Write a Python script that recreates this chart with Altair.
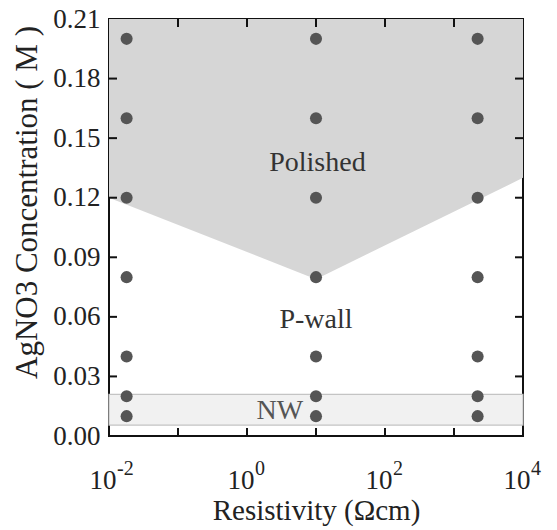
import altair as alt
import pandas as pd

# ---- data ----
resistivity = [0.018, 10, 2200]
concentration = [0.01, 0.02, 0.04, 0.08, 0.12, 0.16, 0.20]

polished_x = [0.01, 10, 10000]
polished_lower = [0.12, 0.079, 0.13]
polished_upper = [0.21, 0.21, 0.21]

nw_x = [0.01]
nw_x2 = [10000]
nw_low = [0.0055]
nw_high = [0.021]

label_text = ["Polished", "P-wall", "NW"]
label_x = [10.5, 10, 3.0]
label_y = [0.1334, 0.0544, 0.0086]
label_color = ["#333333", "#333333", "#555555"]

x_label_values = [0.01, 1, 100, 10000]
x_exponents = ["-2", "0", "2", "4"]
x_tick_values = [0.1, 1, 10, 100, 1000]
y_tick_values = [0.03, 0.06, 0.09, 0.12, 0.15, 0.18]
y_label_values = [0.0, 0.03, 0.06, 0.09, 0.12, 0.15, 0.18, 0.21]

W, H = 414, 417
FONT = "Liberation Serif"

pts = pd.DataFrame([{"r": r, "c": c} for r in resistivity for c in concentration])
poly = pd.DataFrame({"x": polished_x, "y": polished_lower, "y2": polished_upper})
band = pd.DataFrame({"x": nw_x, "x2": nw_x2, "y": nw_low, "y2": nw_high})
labels = pd.DataFrame({"t": label_text, "x": label_x, "y": label_y, "col": label_color})
xt = pd.DataFrame({"x": x_tick_values})
yt = pd.DataFrame({"y": y_tick_values})
expo = pd.DataFrame({"x": x_label_values, "t": x_exponents})

xscale = alt.Scale(type="log", domain=[0.01, 10000], nice=False)
yscale = alt.Scale(domain=[0, 0.21], nice=False, zero=False)

x_axis = alt.Axis(
    values=x_label_values,
    labelExpr="'10'",
    ticks=False, domain=False, grid=False,
    labelFont=FONT, labelFontSize=27, labelColor="#222222",
    labelPadding=52, labelBaseline="alphabetic", labelAlign="right", labelOffset=7,
    labelFlush=False, labelOverlap=False,
    title="Resistivity (Ωcm)", titleFont=FONT, titleFontSize=29,
    titleFontWeight="normal", titleColor="#222222",
    titleBaseline="alphabetic", titleY=83,
)
y_axis = alt.Axis(
    values=y_label_values, format=".2f",
    ticks=False, domain=False, grid=False,
    labelFont=FONT, labelFontSize=27, labelColor="#222222",
    labelPadding=9, labelFlush=False,
    title="AgNO3 Concentration ( M )", titleFont=FONT, titleFontSize=31,
    titleFontWeight="normal", titleColor="#222222",
    titleBaseline="alphabetic", titleX=-73, titleY=183,
)

area = alt.Chart(poly).mark_area(color="#d6d6d6", opacity=1).encode(
    x=alt.X("x:Q", scale=xscale, axis=x_axis),
    y=alt.Y("y:Q", scale=yscale, axis=y_axis),
    y2="y2:Q",
)

rect = alt.Chart(band).mark_rect(fill="#f1f1f1", stroke="#c4c4c4", strokeWidth=1.2).encode(
    x=alt.X("x:Q", scale=xscale), x2="x2:Q",
    y=alt.Y("y:Q", scale=yscale), y2="y2:Q",
)

txt = alt.Chart(labels).mark_text(font=FONT, fontSize=28, baseline="alphabetic", align="center").encode(
    x=alt.X("x:Q", scale=xscale),
    y=alt.Y("y:Q", scale=yscale),
    text="t:N",
    color=alt.Color("col:N", scale=None),
)

exp_txt = alt.Chart(expo).mark_text(
    font=FONT, fontSize=20, baseline="alphabetic", align="left", dx=8, color="#222222"
).encode(
    x=alt.X("x:Q", scale=xscale),
    y=alt.value(H + 39),
    text="t:N",
)

points = alt.Chart(pts).mark_circle(size=145, color="#555555", opacity=1).encode(
    x=alt.X("r:Q", scale=xscale),
    y=alt.Y("c:Q", scale=yscale),
)

tick_style = dict(color="#111111", strokeWidth=2)
bot_ticks = alt.Chart(xt).mark_rule(**tick_style).encode(
    x=alt.X("x:Q", scale=xscale), y=alt.value(H), y2=alt.value(H - 8))
top_ticks = alt.Chart(xt).mark_rule(**tick_style).encode(
    x=alt.X("x:Q", scale=xscale), y=alt.value(0), y2=alt.value(8))
left_ticks = alt.Chart(yt).mark_rule(**tick_style).encode(
    y=alt.Y("y:Q", scale=yscale), x=alt.value(0), x2=alt.value(8))
right_ticks = alt.Chart(yt).mark_rule(**tick_style).encode(
    y=alt.Y("y:Q", scale=yscale), x=alt.value(W), x2=alt.value(W - 8))

chart = alt.layer(
    area, rect, txt, points, exp_txt, bot_ticks, top_ticks, left_ticks, right_ticks
).properties(
    width=W, height=H,
    autosize=alt.AutoSizeParams(type="none"),
    padding={"left": 101, "top": 11, "right": 20, "bottom": 94},
    background="white",
).configure(
    font=FONT
).configure_text(
    font=FONT
).configure_view(
    stroke="#111111", strokeWidth=2
)

chart.save("out.html", embed_options={"renderer": "svg", "actions": False})
